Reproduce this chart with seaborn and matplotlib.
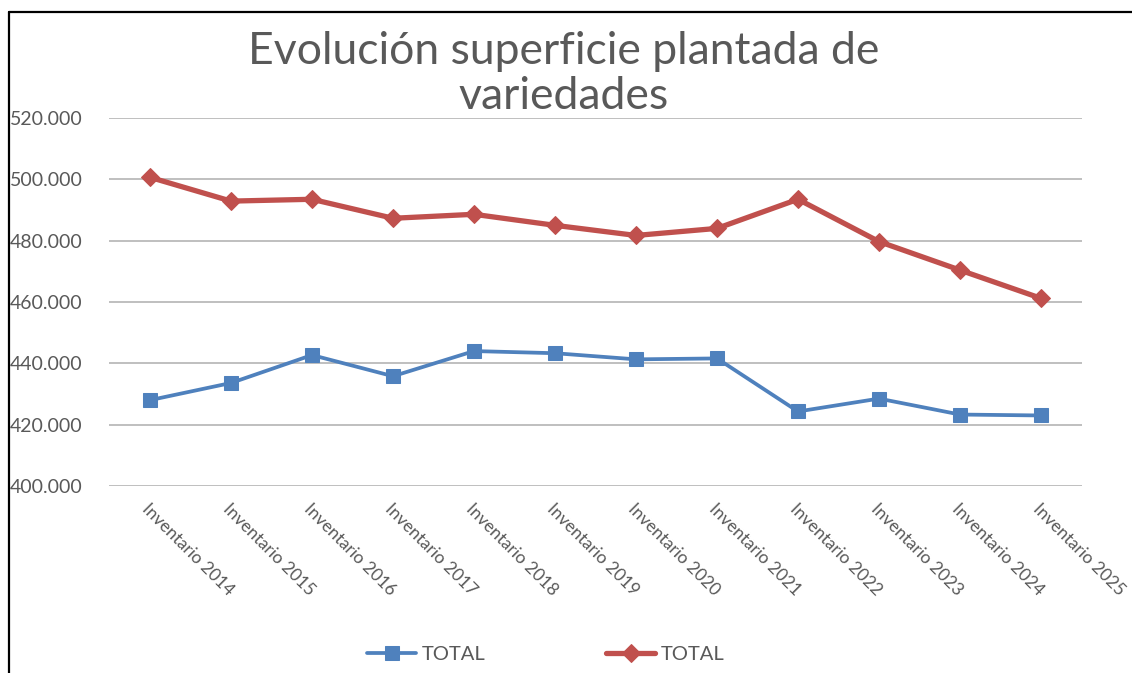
import matplotlib
matplotlib.use("Agg")
import matplotlib.pyplot as plt
import seaborn as sns
import pandas as pd
from matplotlib.lines import Line2D
from matplotlib.ticker import FuncFormatter

categories = ["Inventario 2014", "Inventario 2015", "Inventario 2016", "Inventario 2017",
              "Inventario 2018", "Inventario 2019", "Inventario 2020", "Inventario 2021",
              "Inventario 2022", "Inventario 2023", "Inventario 2024", "Inventario 2025"]
total_blue = [428000, 433600, 442700, 435800, 444000, 443300, 441300, 441600,
              424300, 428500, 423300, 423000]
total_red = [500650, 492900, 493500, 487300, 488600, 485000, 481700, 484000,
             493500, 479700, 470400, 461200]
yticks = [400000, 420000, 440000, 460000, 480000, 500000, 520000]
title = "Evolución superficie plantada de\nvariedades"

sns.set_theme(style="white")
plt.rcParams['font.family'] = ['Lato', 'DejaVu Sans']

W, H = 1132, 673
fig = plt.figure(figsize=(W / 100, H / 100), dpi=100)
ax = fig.add_axes([109.5 / W, 1 - 486 / H, 972 / W, 368 / H])

df_b = pd.DataFrame({"cat": categories, "val": total_blue})
df_r = pd.DataFrame({"cat": categories, "val": total_red})

sns.lineplot(data=df_b, x="cat", y="val", ax=ax, color="#4F81BD", lw=2.7,
             marker="s", markersize=10.5, markeredgecolor="#4F81BD", label="TOTAL")
sns.lineplot(data=df_r, x="cat", y="val", ax=ax, color="#C0504D", lw=3.8,
             marker="D", markersize=9.5, markeredgecolor="#C0504D", label="TOTAL")

ax.set_xlim(-0.5, len(categories) - 0.5)
ax.set_ylim(400000, 520000)
ax.set_yticks(yticks)
ax.yaxis.set_major_formatter(FuncFormatter(lambda v, p: f"{int(v):,}".replace(",", ".")))
ax.grid(axis="y", color="#BFBFBF", lw=1.4)
ax.grid(axis="x", visible=False)
for s in ax.spines.values():
    s.set_visible(False)
ax.set_xlabel("")
ax.set_ylabel("")
ax.set_xticks(range(len(categories)))
ax.set_xticklabels(categories, rotation=-45, ha="left", va="top", rotation_mode="anchor")
ax.tick_params(axis="x", length=0, pad=11, labelsize=12.5, labelcolor="#595959")
ax.tick_params(axis="y", length=0, pad=71.5, labelsize=14, labelcolor="#595959")
for lbl in ax.get_yticklabels():
    lbl.set_horizontalalignment("left")

fig.text(564 / W, 1 - 31 / H, title, ha="center", va="top", fontsize=32,
         color="#595959", linespacing=1.12)

leg = ax.legend(loc="center", bbox_to_anchor=(546 / W, 1 - 654 / H),
                bbox_transform=fig.transFigure, ncol=2, frameon=False,
                fontsize=14.5, handlelength=2.4, columnspacing=6.0, handletextpad=0.3)
for t in leg.get_texts():
    t.set_color("#595959")

fig.add_artist(Line2D([8.5 / W, 8.5 / W], [0, 1 - 12 / H], color="black", lw=1.6,
                      transform=fig.transFigure))
fig.add_artist(Line2D([8.5 / W, 1], [1 - 12 / H, 1 - 12 / H], color="black", lw=1.6,
                      transform=fig.transFigure))

fig.savefig("out.png", dpi=100)
